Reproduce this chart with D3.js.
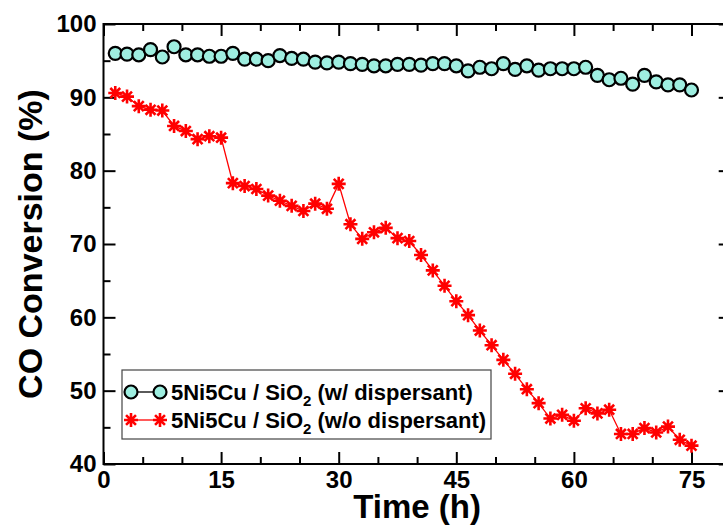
<!DOCTYPE html>
<html>
<head>
<meta charset="utf-8">
<script src="https://cdn.jsdelivr.net/npm/d3@7"></script>
<style>
  body { margin: 0; background: #fff; }
  text { font-family: "Liberation Sans", Arial, sans-serif; font-weight: bold; }
</style>
</head>
<body>
<div id="chart"></div>
<script>
// time on stream (h), one reading every 1.5 h
const hours = d3.range(1, 51).map(i => i * 1.5);

// 5Ni5Cu / SiO2 with dispersant
const withDispersant = [
    96.0, 95.9, 95.8, 96.5, 95.5, 96.9, 95.8, 95.8, 95.6, 95.6,
    96.0, 95.2, 95.2, 95.0, 95.7, 95.3, 95.2, 94.8, 94.7, 94.8,
    94.6, 94.5, 94.3, 94.3, 94.5, 94.5, 94.4, 94.6, 94.6, 94.3,
    93.6, 94.1, 93.9, 94.6, 93.8, 94.3, 93.7, 93.9, 93.9, 93.9,
    94.1, 93.0, 92.4, 92.6, 91.8, 93.0, 92.1, 91.7, 91.7, 91.0
];

// 5Ni5Cu / SiO2 without dispersant
const withoutDispersant = [
    90.6, 90.1, 88.8, 88.3, 88.2, 86.1, 85.4, 84.3, 84.7, 84.5,
    78.3, 77.9, 77.5, 76.6, 75.9, 75.2, 74.5, 75.5, 74.8, 78.2,
    72.7, 70.7, 71.6, 72.2, 70.8, 70.4, 68.5, 66.4, 64.3, 62.2,
    60.3, 58.2, 56.2, 54.2, 52.3, 50.2, 48.3, 46.2, 46.7, 45.9,
    47.6, 46.9, 47.4, 44.1, 44.1, 44.9, 44.3, 45.1, 43.3, 42.5
];

const xTicks = [0, 15, 30, 45, 60, 75];
const yTicks = [40, 50, 60, 70, 80, 90, 100];
const legendLabels = ["(w/ dispersant)", "(w/o dispersant)"];

const W = 723, H = 526;
const circleFill = "#9eeee0";

const svg = d3.select("#chart").append("svg")
    .attr("width", W)
    .attr("height", H);

// plot runs past the right edge of the picture (cropped)
const x = d3.scaleLinear().domain([0, 80]).range([103.5, 730.7]);
const y = d3.scaleLinear().domain([40, 100]).range([464, 24]);

const minorX = d3.range(0, 81, 5).filter(d => d % 15 !== 0);
const minorY = d3.range(45, 100, 10);

// bottom axis
svg.append("g")
    .attr("transform", `translate(0,${y(40)})`)
    .call(d3.axisBottom(x).tickValues(xTicks).tickSize(-12).tickPadding(7))
    .call(g => g.select(".domain").remove())
    .call(g => g.selectAll("text").attr("font-size", 24).attr("fill", "#000"));
svg.append("g")
    .attr("transform", `translate(0,${y(40)})`)
    .call(d3.axisBottom(x).tickValues(minorX).tickSize(-7).tickFormat(""))
    .call(g => g.select(".domain").remove());

// top axis (ticks only)
svg.append("g")
    .attr("transform", `translate(0,${y(100)})`)
    .call(d3.axisTop(x).tickValues(xTicks).tickSize(-12).tickFormat(""))
    .call(g => g.select(".domain").remove());
svg.append("g")
    .attr("transform", `translate(0,${y(100)})`)
    .call(d3.axisTop(x).tickValues(minorX).tickSize(-7).tickFormat(""))
    .call(g => g.select(".domain").remove());

// left axis
svg.append("g")
    .attr("transform", `translate(${x(0)},0)`)
    .call(d3.axisLeft(y).tickValues(yTicks).tickSize(-12).tickPadding(7))
    .call(g => g.select(".domain").remove())
    .call(g => g.selectAll("text").attr("font-size", 24).attr("fill", "#000"));
svg.append("g")
    .attr("transform", `translate(${x(0)},0)`)
    .call(d3.axisLeft(y).tickValues(minorY).tickSize(-7).tickFormat(""))
    .call(g => g.select(".domain").remove());

// right axis (mostly outside the picture)
svg.append("g")
    .attr("transform", `translate(${x(80)},0)`)
    .call(d3.axisRight(y).tickValues(yTicks).tickSize(-12).tickFormat(""))
    .call(g => g.select(".domain").remove());

svg.selectAll(".tick line").attr("stroke", "#000").attr("stroke-width", 2);

// frame
svg.append("rect")
    .attr("x", x(0)).attr("y", y(100))
    .attr("width", x(80) - x(0)).attr("height", y(40) - y(100))
    .attr("fill", "none").attr("stroke", "#000").attr("stroke-width", 2);

// axis titles
svg.append("text")
    .attr("x", (x(0) + x(80)) / 2)
    .attr("y", 518)
    .attr("text-anchor", "middle")
    .attr("font-size", 33)
    .text("Time (h)");

svg.append("text")
    .attr("transform", `translate(42,${(y(40) + y(100)) / 2}) rotate(-90)`)
    .attr("text-anchor", "middle")
    .attr("font-size", 34)
    .text("CO Conversion (%)");

// star (asterisk) marker
function star(g, cx, cy, r) {
    const p = d3.path();
    for (let k = 0; k < 4; k++) {
        const a = k * Math.PI / 4;
        p.moveTo(cx - r * Math.cos(a), cy - r * Math.sin(a));
        p.lineTo(cx + r * Math.cos(a), cy + r * Math.sin(a));
    }
    g.append("path").attr("d", p.toString())
        .attr("stroke", "red").attr("stroke-width", 2.6).attr("fill", "none");
}

const line = d3.line().x(d => x(d[0])).y(d => y(d[1]));

// series without dispersant
const redData = hours.map((h, i) => [h, withoutDispersant[i]]);
svg.append("path")
    .datum(redData)
    .attr("d", line)
    .attr("fill", "none")
    .attr("stroke", "red")
    .attr("stroke-width", 1.3);
const stars = svg.append("g");
redData.forEach(d => star(stars, x(d[0]), y(d[1]), 7));

// series with dispersant
const cyanData = hours.map((h, i) => [h, withDispersant[i]]);
svg.append("path")
    .datum(cyanData)
    .attr("d", line)
    .attr("fill", "none")
    .attr("stroke", "#000")
    .attr("stroke-width", 1.3);
svg.append("g").selectAll("circle")
    .data(cyanData)
    .enter()
    .append("circle")
    .attr("cx", d => x(d[0]))
    .attr("cy", d => y(d[1]))
    .attr("r", 6.5)
    .attr("fill", circleFill)
    .attr("stroke", "#000")
    .attr("stroke-width", 2.2);

// legend
const legend = svg.append("g");
legend.append("rect")
    .attr("x", 122).attr("y", 370)
    .attr("width", 369).attr("height", 69)
    .attr("fill", "#fff").attr("stroke", "#444").attr("stroke-width", 1.2);

const rows = [392, 420];
legend.append("line")
    .attr("x1", 131).attr("x2", 160).attr("y1", rows[0]).attr("y2", rows[0])
    .attr("stroke", "#000").attr("stroke-width", 1.3);
[131, 160].forEach(cx => legend.append("circle")
    .attr("cx", cx).attr("cy", rows[0]).attr("r", 6.5)
    .attr("fill", circleFill).attr("stroke", "#000").attr("stroke-width", 2.2));

legend.append("line")
    .attr("x1", 131).attr("x2", 160).attr("y1", rows[1]).attr("y2", rows[1])
    .attr("stroke", "red").attr("stroke-width", 1.3);
[131, 160].forEach(cx => star(legend, cx, rows[1], 7));

legendLabels.forEach((lab, i) => {
    const t = legend.append("text")
        .attr("x", 171)
        .attr("y", rows[i])
        .attr("dy", "0.36em")
        .attr("font-size", 22);
    t.append("tspan").text("5Ni5Cu / SiO");
    t.append("tspan").attr("dy", 6).attr("font-size", 15).text("2");
    t.append("tspan").attr("dy", -6).text(" " + lab);
});
</script>
</body>
</html>
